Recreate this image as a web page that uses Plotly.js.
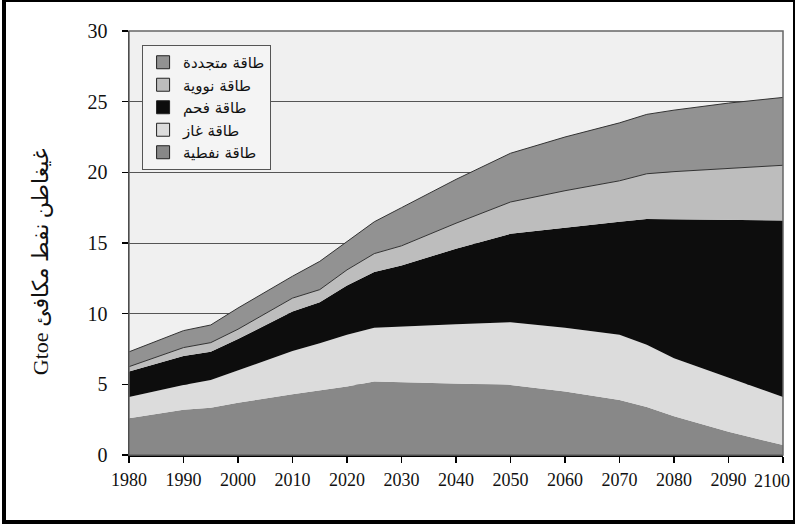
<!DOCTYPE html>
<html>
<head>
<meta charset="utf-8">
<script src="https://cdn.plot.ly/plotly-3.0.1.min.js"></script>
<style>
  html, body { margin: 0; padding: 0; background: #ffffff; }
  #wrap { position: relative; width: 795px; height: 524px; }
  #chart { position: absolute; left: 0; top: 0; width: 795px; height: 524px; }
  #frame { position: absolute; left: 2px; top: 0px; width: 793px; height: 524px; box-sizing: border-box;
           border-left: 4px solid #000; border-bottom: 4px solid #000; border-top: 2px solid #000; border-right: 2px solid #000;
           pointer-events: none; }
</style>
</head>
<body>
<div id="wrap"><div id="chart"></div><div id="frame"></div></div>
<script>
// Years on the x axis
const years = [1980, 1990, 1995, 2000, 2010, 2015, 2020, 2025, 2030, 2040, 2050, 2060, 2070, 2075, 2080, 2090, 2100];

// Layer values (Gtoe), stacked bottom to top
const oil        = [2.6, 3.2, 3.35, 3.7, 4.3, 4.55, 4.85, 5.2, 5.15, 5.07, 4.95, 4.5, 3.9, 3.4, 2.75, 1.65, 0.7];
const gas        = [1.5, 1.75, 1.95, 2.3, 3.05, 3.35, 3.65, 3.8, 3.95, 4.18, 4.45, 4.5, 4.6, 4.4, 4.1, 3.85, 3.4];
const coal       = [1.8, 2.05, 2.0, 2.2, 2.8, 2.9, 3.5, 3.95, 4.3, 5.35, 6.25, 7.1, 8.0, 8.9, 9.83, 11.14, 12.5];
const nuclear    = [0.35, 0.6, 0.65, 0.7, 0.95, 0.9, 1.1, 1.3, 1.4, 1.8, 2.25, 2.6, 2.9, 3.2, 3.37, 3.66, 3.9];
const renewable  = [1.05, 1.2, 1.25, 1.5, 1.55, 2.0, 2.0, 2.25, 2.7, 3.1, 3.45, 3.8, 4.1, 4.2, 4.35, 4.6, 4.8];

// Labels
const nameRenewable = "طاقة متجددة";
const nameNuclear   = "طاقة نووية";
const nameCoal      = "طاقة فحم";
const nameGas       = "طاقة غاز";
const nameOil       = "طاقة نفطية";
const yTitle = "Gtoe غيغاطن نفط مكافئ";
const xTicks = [1980, 1990, 2000, 2010, 2020, 2030, 2040, 2050, 2060, 2070, 2080, 2090, 2100];
const yTicks = [0, 5, 10, 15, 20, 25, 30];

const colors = {
  oil: "#888888", gas: "#dcdcdc", coal: "#0d0d0d", nuclear: "#bdbdbd", renewable: "#929292"
};

const SERIF = "'Liberation Serif', 'Times New Roman', Times, serif";

function area(name, vals, color, lineColor, lineWidth) {
  return {
    type: "scatter", mode: "lines", x: years, y: vals, name: name,
    stackgroup: "one", fillcolor: color,
    line: { color: lineColor, width: lineWidth, shape: "linear" },
    showlegend: false, hoverinfo: "skip"
  };
}
function legendItem(name, color) {
  return {
    type: "scatter", mode: "markers", x: [null], y: [null], name: name,
    marker: { symbol: "square", size: 13, color: color, line: { color: "#222", width: 1 } },
    showlegend: true, hoverinfo: "skip"
  };
}

const data = [
  area(nameOil, oil, colors.oil, colors.oil, 0),
  area(nameGas, gas, colors.gas, colors.gas, 0),
  area(nameCoal, coal, colors.coal, colors.coal, 0),
  area(nameNuclear, nuclear, colors.nuclear, "#333333", 1),
  area(nameRenewable, renewable, colors.renewable, "#333333", 1),
  legendItem(nameRenewable, colors.renewable),
  legendItem(nameNuclear, colors.nuclear),
  legendItem(nameCoal, colors.coal),
  legendItem(nameGas, colors.gas),
  legendItem(nameOil, colors.oil)
];

const lastTick = xTicks[xTicks.length - 1];

const layout = {
  width: 795, height: 524,
  margin: { l: 129, r: 12, t: 31, b: 69 },
  paper_bgcolor: "rgba(0,0,0,0)",
  plot_bgcolor: "#f0f0f0",
  showlegend: true,
  font: { family: SERIF, color: "#111" },
  xaxis: {
    range: [1980, 2100], tickvals: xTicks,
    ticktext: xTicks.map(v => v === lastTick ? "" : String(v)),
    ticks: "outside", ticklen: 6, tickcolor: "#000", tickwidth: 1.5,
    showline: true, linecolor: "#000", linewidth: 1.5,
    showgrid: false, zeroline: false,
    tickfont: { family: SERIF, size: 18, color: "#111" },
    ticklabelstandoff: 2
  },
  yaxis: {
    range: [0, 30], tickvals: yTicks,
    ticks: "outside", ticklen: 6, tickcolor: "#000", tickwidth: 1.5,
    showline: true, linecolor: "#000", linewidth: 1.5,
    showgrid: true, gridcolor: "#555", gridwidth: 1, zeroline: false,
    tickfont: { family: SERIF, size: 20, color: "#111" },
    ticklabelstandoff: 10
  },
  annotations: [
    { text: String(lastTick), xref: "x", yref: "paper", x: lastTick, y: 0, xanchor: "right", yanchor: "top",
      xshift: 9, yshift: -14, showarrow: false, font: { family: SERIF, size: 18, color: "#111" } },
    { text: yTitle, xref: "paper", yref: "paper", x: -0.136, y: 0.455, xanchor: "center", yanchor: "middle",
      textangle: -90, showarrow: false,
      font: { family: "'Liberation Serif', 'DejaVu Sans', serif", size: 22, color: "#111" } }
  ],
  legend: {
    x: 0.02, y: 0.967, xanchor: "left", yanchor: "top",
    bgcolor: "#f4f4f4", bordercolor: "#555", borderwidth: 1,
    font: { family: "'DejaVu Sans', sans-serif", size: 15, color: "#111" },
    traceorder: "normal", itemwidth: 30
  },
  shapes: [
    { type: "rect", xref: "paper", yref: "paper", x0: 0, x1: 1, y0: 0, y1: 1,
      line: { color: "#666", width: 1.5 }, fillcolor: "rgba(0,0,0,0)", layer: "above" }
  ]
};

Plotly.newPlot("chart", data, layout, { displayModeBar: false, staticPlot: true });
</script>
</body>
</html>
